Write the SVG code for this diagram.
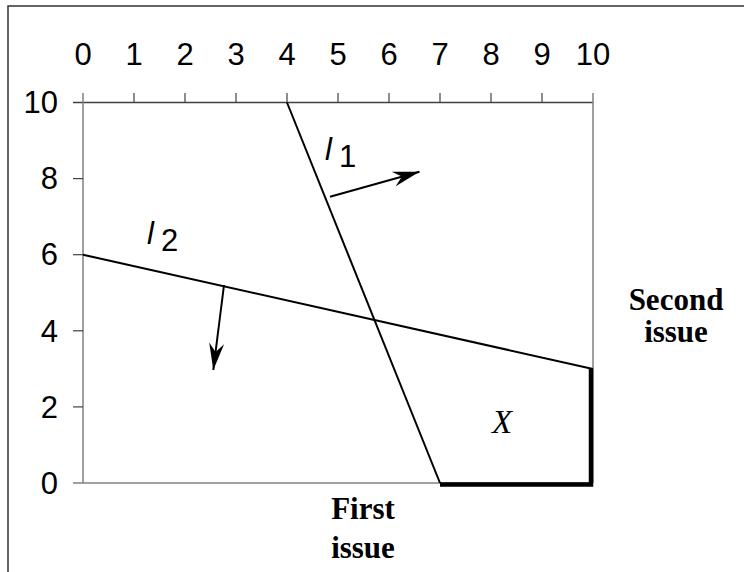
<svg xmlns="http://www.w3.org/2000/svg" width="744" height="572" viewBox="0 0 744 572">
<style>
.num{font-family:"Liberation Sans",Arial,sans-serif;font-size:31px;fill:#000}
.lab{font-family:"Liberation Serif","Times New Roman",serif;font-size:31px;font-weight:bold;fill:#000}
.ax{stroke:#808080;stroke-width:1.5;fill:none}
.axd{stroke:#404040;stroke-width:1.5;fill:none}
.tk{stroke:#404040;stroke-width:1.2}
.ln{stroke:#000;stroke-width:2;fill:none}
.arr{stroke:#000;stroke-width:2;fill:none;marker-end:url(#ah)}
.thick{stroke:#000;stroke-width:4.5;fill:none}
</style>
<defs>
<marker id="ah" markerUnits="userSpaceOnUse" markerWidth="30" markerHeight="20" refX="0" refY="0" viewBox="-26 -9 28 18" orient="auto">
<path d="M0,0 L-25,-7 L-17,0 L-25,7 z" fill="#000"/>
</marker>
</defs>
<rect x="8" y="6" width="760" height="600" fill="#fff" stroke="#333" stroke-width="1.5"/>
<g id="axes">
<line class="axd" x1="73" y1="102.5" x2="593" y2="102.5"/>
<line class="ax" x1="83" y1="93" x2="83" y2="483"/>
<line class="ax" x1="73" y1="483" x2="593" y2="483"/>
<line class="ax" x1="593" y1="93" x2="593" y2="483"/>
<g class="tk">
<line x1="134" y1="93" x2="134" y2="102.5"/>
<line x1="185" y1="93" x2="185" y2="102.5"/>
<line x1="236" y1="93" x2="236" y2="102.5"/>
<line x1="287" y1="93" x2="287" y2="102.5"/>
<line x1="338" y1="93" x2="338" y2="102.5"/>
<line x1="389" y1="93" x2="389" y2="102.5"/>
<line x1="440" y1="93" x2="440" y2="102.5"/>
<line x1="491" y1="93" x2="491" y2="102.5"/>
<line x1="542" y1="93" x2="542" y2="102.5"/>
<line x1="73" y1="178.6" x2="83" y2="178.6"/>
<line x1="73" y1="254.7" x2="83" y2="254.7"/>
<line x1="73" y1="330.8" x2="83" y2="330.8"/>
<line x1="73" y1="406.9" x2="83" y2="406.9"/>
</g>
<g class="num" text-anchor="middle">
<text x="83" y="65">0</text>
<text x="134" y="65">1</text>
<text x="185" y="65">2</text>
<text x="236" y="65">3</text>
<text x="287" y="65">4</text>
<text x="338" y="65">5</text>
<text x="389" y="65">6</text>
<text x="440" y="65">7</text>
<text x="491" y="65">8</text>
<text x="542" y="65">9</text>
<text x="593" y="65">10</text>
</g>
<g class="num" text-anchor="end">
<text x="58" y="113">10</text>
<text x="58" y="189.3">8</text>
<text x="58" y="265.4">6</text>
<text x="58" y="341.5">4</text>
<text x="58" y="417.6">2</text>
<text x="58" y="493.7">0</text>
</g>
</g>
<g id="connectors">
<line class="ln" x1="287" y1="102.5" x2="440" y2="483"/>
<line class="ln" x1="83" y1="254.7" x2="593" y2="369"/>
<line class="arr" x1="330" y1="196.7" x2="419.5" y2="171.7"/>
<line class="arr" x1="224" y1="285" x2="213.3" y2="370"/>
<polyline class="thick" points="440,484.5 591,484.5 591,369"/>
</g>
<g id="l1">
<text class="num" x="325" y="160" font-style="italic" font-size="30">l</text>
<text class="num" x="339" y="166.7" font-size="19">1</text>
</g>
<g id="l2">
<text class="num" x="147" y="244" font-style="italic" font-size="30">l</text>
<text class="num" x="161" y="250.7" font-size="19">2</text>
</g>
<g id="X">
<text x="502" y="433.3" text-anchor="middle" font-family="'Liberation Serif','Times New Roman',serif" font-style="italic" font-size="33">X</text>
</g>
<g id="first-issue">
<text class="lab" x="363" y="519" text-anchor="middle">First</text>
<text class="lab" x="363" y="558" text-anchor="middle">issue</text>
</g>
<g id="second-issue">
<text class="lab" x="676" y="310" text-anchor="middle">Second</text>
<text class="lab" x="676" y="341.7" text-anchor="middle">issue</text>
</g>
</svg>
